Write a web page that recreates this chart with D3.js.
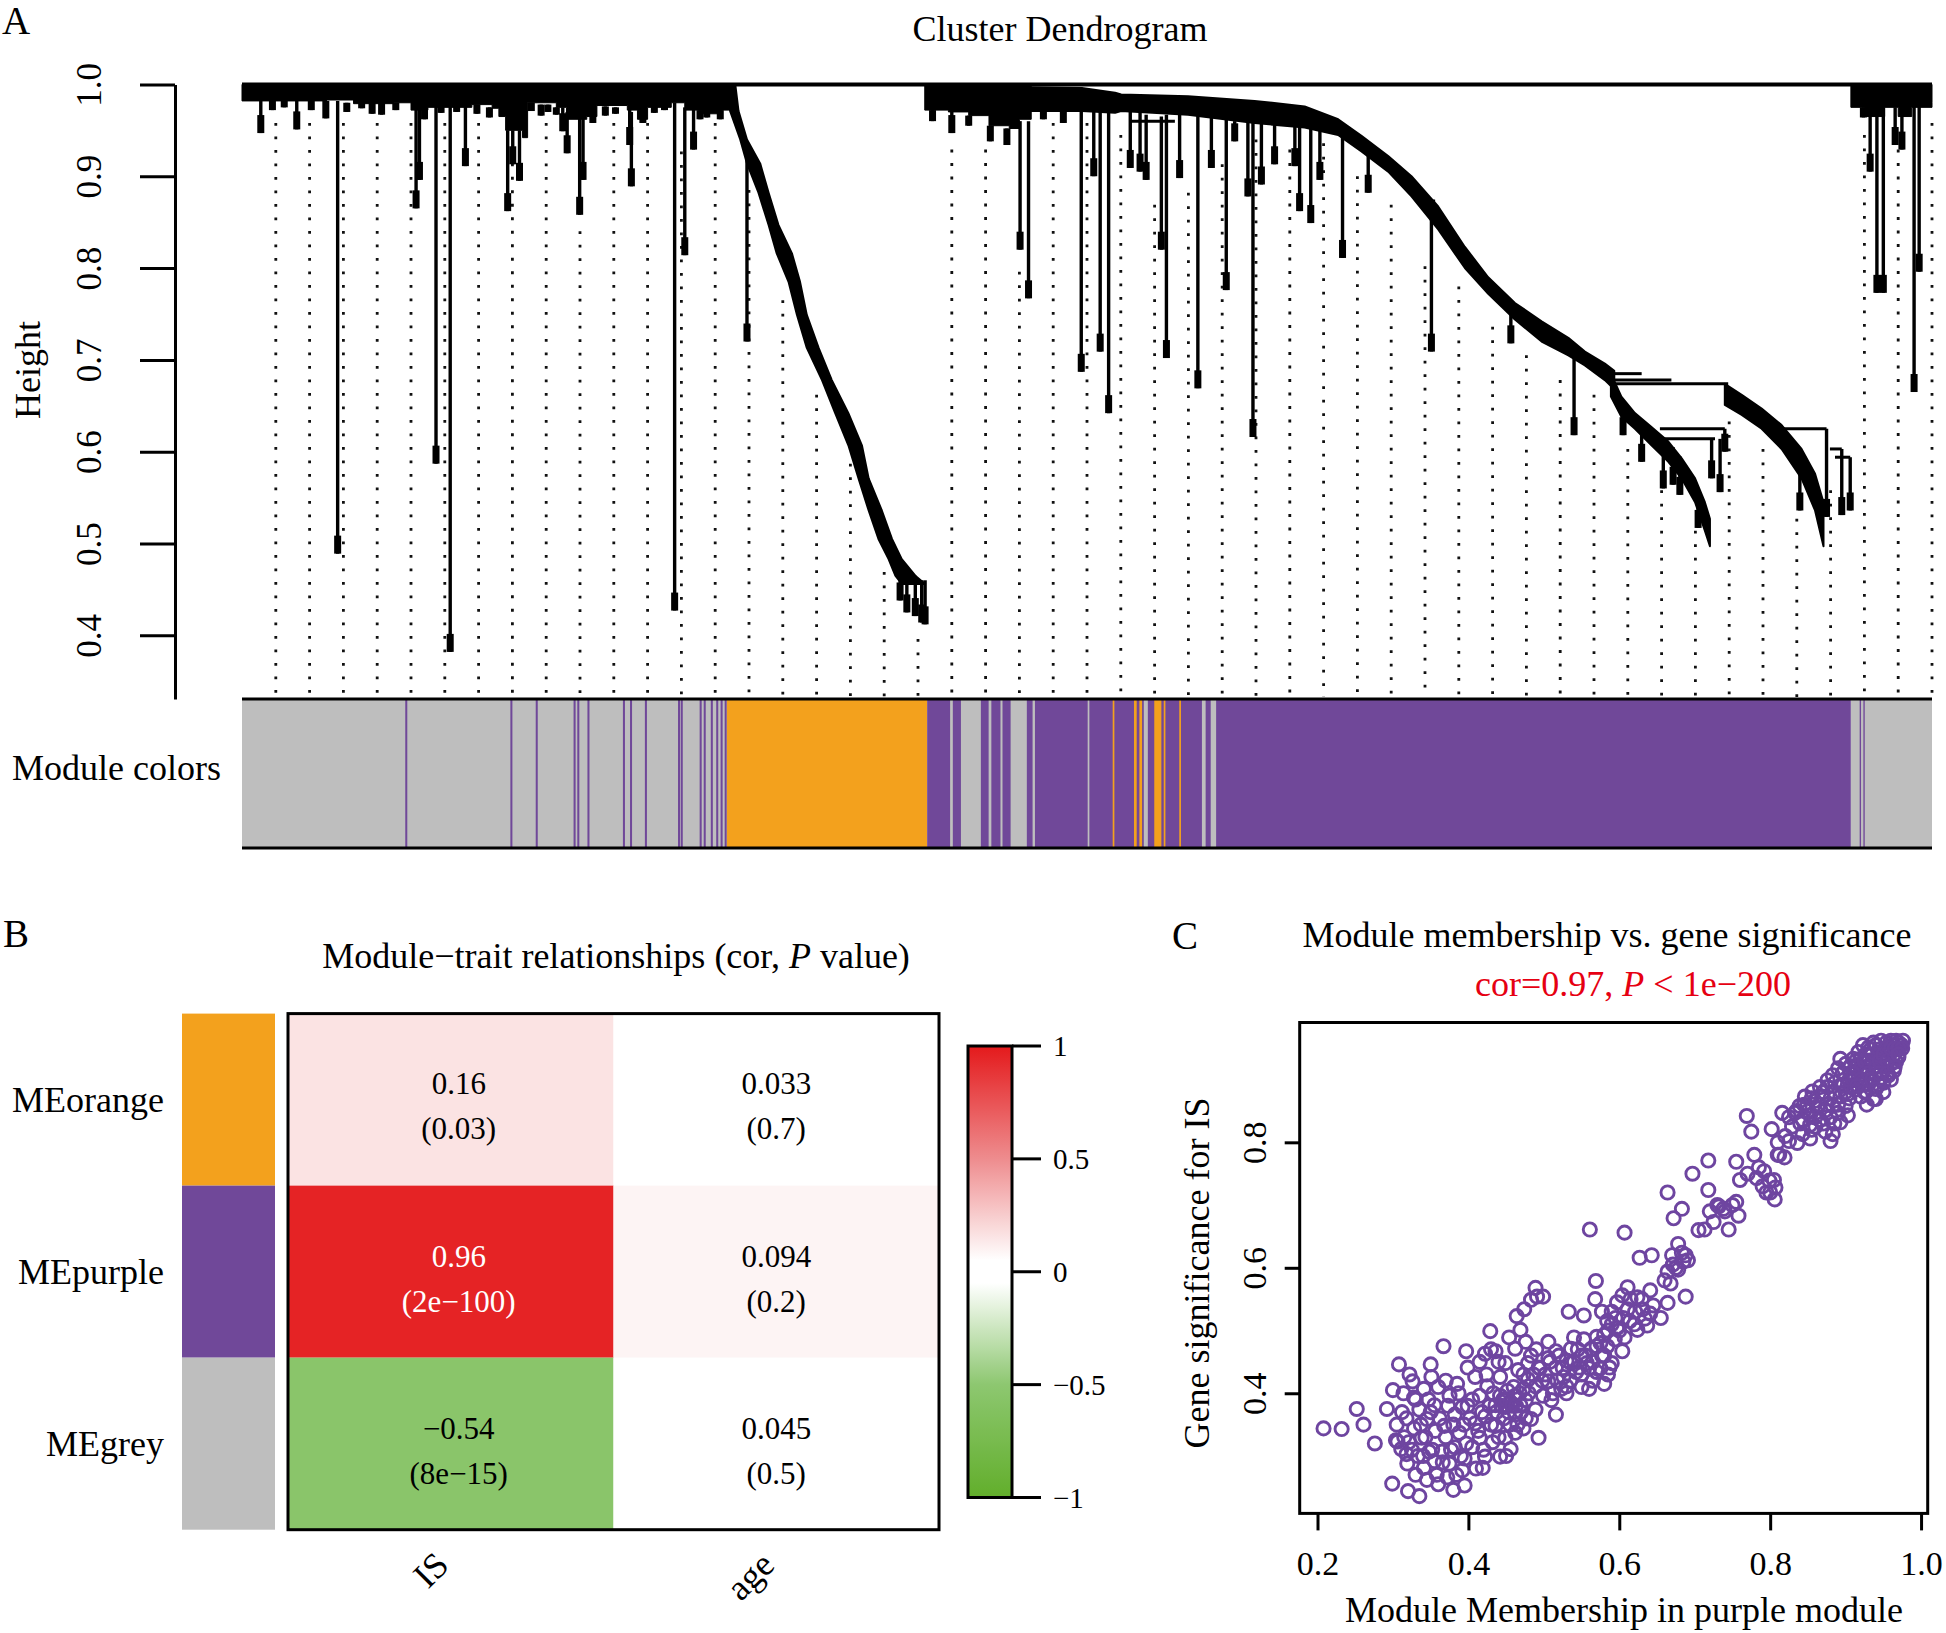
<!DOCTYPE html>
<html>
<head>
<meta charset="utf-8">
<script src="https://cdn.jsdelivr.net/npm/d3@7/dist/d3.min.js"></script>
<style>
html,body{margin:0;padding:0;background:#fff;}
svg{display:block;}
</style>
</head>
<body>
<svg id="fig" width="1946" height="1633" xmlns="http://www.w3.org/2000/svg"></svg>
<script>
// ================= DATA =================
// ---- Panel A: dendrogram (x = leaf position in guide units 0..50, y = height) ----
const heightTicks = [0.4, 0.5, 0.6, 0.7, 0.8, 0.9, 1.0];
const heightTickLabels = ["0.4", "0.5", "0.6", "0.7", "0.8", "0.9", "1.0"];

// height at which each of the 50 dotted guide lines starts (guide k at position k)
const guideTop = [0.958,0.958,0.958,0.958,0.958,0.958,0.958,0.914,0.958,0.840,
  0.958,0.958,0.927,0.958,0.885,0.765,0.662,0.587,0.469,0.396,
  0.929,0.929,0.796,0.958,0.958,0.945,0.869,0.882,0.913,0.940,
  0.929,0.936,0.900,0.869,0.802,0.780,0.736,0.705,0.678,0.662,
  0.603,0.558,0.514,0.633,0.603,0.527,0.558,0.945,0.929,0.958];

// dense merge blocks hanging from the root: [position, lower height]
const topBandLeft = [[0,0.982],[2.5,0.983],[3.3,0.979],[4.5,0.980],[5.0,0.972],[5.5,0.975],[6.8,0.978],
  [7.4,0.974],[7.6,0.965],[7.8,0.950],[8.3,0.942],[8.45,0.980],[9.3,0.975],[9.6,0.962],[10.2,0.965],
  [10.5,0.977],[11.4,0.972],[11.7,0.962],[12.0,0.975],[12.7,0.980],[13.1,0.972],[13.6,0.968],[14.2,0.972],[14.55,0.985]];
const topBandMid = [[20.2,0.972],[20.9,0.970],[21.5,0.966],[22.1,0.955],[22.7,0.952],[23.0,0.962],[23.35,0.970]];
const topBandRight = [[47.6,0.975],[48.0,0.965],[48.6,0.975],[49.0,0.965],[49.4,0.975],[50.0,0.980]];

// sloping clusters: [position, upper height, lower height]
const bandMain = [[23.3,0.997,0.971],[24.85,0.996,0.971],[25.83,0.991,0.969],[26.01,0.989,0.971],
  [27.99,0.987,0.967],[29.96,0.982,0.958],[31.44,0.976,0.953],[32.43,0.962,0.945],[33.12,0.944,0.927],
  [33.91,0.922,0.905],[34.6,0.900,0.878],[35.39,0.867,0.842],[36.18,0.823,0.800],[36.87,0.790,0.772],
  [37.66,0.762,0.744],[38.45,0.742,0.720],[39.24,0.724,0.705],[39.73,0.709,0.694],[40.32,0.696,0.678],[40.6,0.688,0.668]];
const bandSubLeft = [[40.5,0.685,0.660],[40.81,0.660,0.638],[41.21,0.642,0.625],[41.7,0.627,0.607],
  [42.2,0.611,0.589],[42.59,0.593,0.571],[42.99,0.571,0.545],[43.28,0.545,0.514],[43.43,0.527,0.497]];
const bandSubRight = [[43.87,0.674,0.651],[44.37,0.662,0.640],[44.96,0.647,0.625],[45.55,0.629,0.603],
  [46.14,0.603,0.571],[46.54,0.576,0.536],[46.79,0.545,0.497]];
// steep orange cluster: [height, left position, right position]
const bandOrange = [[0.998,14.39,14.60],[0.971,14.44,14.69],[0.940,14.74,14.94],[0.914,14.94,15.33],
  [0.882,15.28,15.58],[0.847,15.58,15.87],[0.816,15.82,16.27],[0.785,16.17,16.51],[0.749,16.42,16.71],
  [0.713,16.71,17.06],[0.678,17.16,17.45],[0.642,17.55,17.94],[0.607,17.94,18.34],[0.571,18.24,18.54],
  [0.536,18.54,18.93],[0.505,18.83,19.23],[0.483,19.13,19.52],[0.465,19.33,19.92],[0.456,19.52,20.21]];

// horizontal merge segments: [from, to, height]
const mergeBars = [[40.52,41.41,0.685],[40.52,42.29,0.678],[40.52,43.97,0.674],[41.95,43.87,0.625],
  [42.05,43.58,0.614],[45.26,46.88,0.625],[46.98,47.33,0.603],[47.13,47.58,0.594],[35.0,35.3,0.873],[26.3,27.6,0.960]];

// hanging branches: [position, top height, bottom height]
const drops = [
  [0.556,0.982,0.947],[0.9,0.982,0.972],[1.25,0.982,0.975],[1.62,0.982,0.951],[2.05,0.982,0.972],
  [2.48,0.982,0.963],[2.83,0.982,0.489],[3.1,0.980,0.970],[3.54,0.980,0.974],[3.85,0.980,0.968],
  [4.13,0.980,0.967],[4.55,0.980,0.972],[5.15,0.975,0.865],[5.25,0.975,0.896],[5.40,0.975,0.962],
  [5.74,0.978,0.587],[5.89,0.978,0.969],[6.16,0.978,0.382],[6.35,0.978,0.970],[6.61,0.978,0.911],
  [6.95,0.978,0.968],[7.32,0.975,0.964],[7.86,0.950,0.862],[8.01,0.950,0.913],[8.21,0.950,0.895],
  [8.56,0.980,0.971],[8.85,0.978,0.966],[9.05,0.978,0.970],[9.30,0.975,0.967],[9.49,0.975,0.949],
  [9.62,0.970,0.925],[9.99,0.970,0.858],[10.09,0.970,0.896],[10.38,0.975,0.958],[10.75,0.976,0.966],
  [11.05,0.975,0.968],[11.47,0.975,0.934],[11.52,0.970,0.889],[11.86,0.975,0.958],[12.2,0.978,0.969],
  [12.5,0.978,0.972],[12.80,0.980,0.427],[13.10,0.975,0.814],[13.36,0.975,0.929],[13.55,0.972,0.962],
  [13.75,0.975,0.964],[14.15,0.972,0.962],
  [14.94,0.930,0.720],[19.47,0.480,0.438],[19.67,0.470,0.425],[19.92,0.465,0.421],[20.11,0.460,0.414],[20.21,0.460,0.412],
  [20.43,0.972,0.960],[21.0,0.970,0.947],[21.5,0.966,0.955],[22.14,0.955,0.938],[22.63,0.952,0.934],[23.02,0.960,0.820],
  [23.27,0.960,0.767],[23.71,0.970,0.962],[24.3,0.970,0.958],[24.83,0.971,0.687],[25.2,0.970,0.900],[25.39,0.970,0.709],
  [25.64,0.970,0.642],[26.28,0.970,0.909],[26.57,0.970,0.905],[26.75,0.967,0.896],[27.2,0.965,0.820],
  [27.35,0.967,0.702],[27.74,0.967,0.898],[28.28,0.967,0.669],[28.68,0.965,0.909],[29.12,0.962,0.776],
  [29.37,0.960,0.938],[29.76,0.960,0.878],[29.91,0.960,0.616],[30.16,0.960,0.891],[30.55,0.958,0.913],
  [31.15,0.955,0.911],[31.29,0.955,0.862],[31.62,0.953,0.849],[31.89,0.952,0.896],[32.56,0.945,0.811],
  [33.32,0.925,0.882],[35.19,0.873,0.709],[37.54,0.755,0.718],[39.41,0.710,0.618],
  [40.86,0.655,0.618],[41.41,0.635,0.589],[42.05,0.614,0.560],[42.34,0.605,0.564],[42.54,0.595,0.553],
  [43.08,0.560,0.517],[43.48,0.614,0.571],[43.73,0.614,0.556],[43.87,0.625,0.600],[46.09,0.590,0.536],
  [46.88,0.625,0.529],[47.33,0.603,0.531],[47.58,0.594,0.536],
  [47.97,0.975,0.964],[48.17,0.975,0.905],[48.37,0.975,0.773],[48.56,0.975,0.773],[48.91,0.975,0.934],
  [49.11,0.975,0.929],[49.47,0.978,0.665],[49.62,0.978,0.796]];

// module colour strip under the tree: [from, to, module]
const moduleRuns = [[0,14.34,"grey"],[14.34,20.27,"orange"],[20.27,47.6,"purple"],[47.6,50,"grey"],
  [4.83,4.89,"purple"],[7.94,8.0,"purple"],[8.69,8.75,"purple"],[9.81,9.87,"purple"],[9.92,9.98,"purple"],
  [10.22,10.28,"purple"],[11.27,11.33,"purple"],[11.48,11.54,"purple"],[11.92,11.98,"purple"],
  [12.9,12.96,"purple"],[12.98,13.04,"purple"],[13.54,13.6,"purple"],[13.66,13.72,"purple"],
  [13.87,13.93,"purple"],[14.03,14.09,"purple"],[14.16,14.22,"purple"],[14.28,14.34,"purple"],
  [20.95,21.03,"grey"],[21.27,21.86,"grey"],[22.09,22.17,"grey"],[22.44,22.5,"grey"],[22.74,23.22,"grey"],
  [23.39,23.46,"grey"],[25.02,25.07,"grey"],[26.68,26.8,"grey"],[28.4,28.51,"grey"],[28.66,28.82,"grey"],
  [25.76,25.81,"orange"],[26.39,26.47,"orange"],[26.55,26.63,"orange"],[26.99,27.2,"orange"],
  [27.27,27.32,"orange"],[27.73,27.78,"orange"],
  [47.86,47.9,"purple"],[47.97,48.01,"purple"]];

// ---- Panel B: module-trait relationships ----
const modules = ["MEorange", "MEpurple", "MEgrey"];
const moduleNames = ["orange", "purple", "grey"];
const traits = ["IS", "age"];
const corValues = [[0.16, 0.033], [0.96, 0.094], [-0.54, 0.045]];
const corLabels = [["0.16", "0.033"], ["0.96", "0.094"], ["\u22120.54", "0.045"]];
const pLabels = [["(0.03)", "(0.7)"], ["(2e\u2212100)", "(0.2)"], ["(8e\u221215)", "(0.5)"]];
const legendTicks = [1, 0.5, 0, -0.5, -1];
const legendTickLabels = ["1", "0.5", "0", "\u22120.5", "\u22121"];

// ---- Panel C: module membership vs gene significance ----
const mmTicks = [0.2, 0.4, 0.6, 0.8, 1.0];
const mmTickLabels = ["0.2", "0.4", "0.6", "0.8", "1.0"];
const gsTicks = [0.4, 0.6, 0.8];
const gsTickLabels = ["0.4", "0.6", "0.8"];
const mmGs = [
[0.208,0.344],[0.232,0.343],[0.252,0.375],[0.261,0.350],[0.276,0.320],[0.292,0.375],[0.299,0.256],[0.300,0.405],
[0.308,0.446],[0.306,0.323],[0.320,0.244],[0.335,0.236],[0.319,0.288],[0.322,0.430],[0.314,0.400],[0.326,0.419],
[0.304,0.325],[0.311,0.311],[0.318,0.303],[0.328,0.393],[0.335,0.374],[0.341,0.407],[0.351,0.426],[0.350,0.446],
[0.367,0.475],[0.355,0.381],[0.345,0.359],[0.328,0.344],[0.321,0.322],[0.338,0.329],[0.348,0.307],[0.341,0.281],
[0.345,0.262],[0.360,0.255],[0.380,0.246],[0.372,0.266],[0.355,0.292],[0.365,0.307],[0.375,0.288],[0.382,0.314],
[0.388,0.337],[0.368,0.348],[0.382,0.366],[0.392,0.378],[0.375,0.396],[0.385,0.415],[0.399,0.441],[0.397,0.467],
[0.409,0.426],[0.392,0.277],[0.395,0.296],[0.405,0.314],[0.415,0.329],[0.409,0.352],[0.395,0.253],[0.419,0.281],
[0.422,0.299],[0.432,0.322],[0.422,0.363],[0.436,0.381],[0.415,0.396],[0.425,0.411],[0.442,0.426],[0.429,0.499],
[0.436,0.467],[0.449,0.448],[0.422,0.463],[0.442,0.396],[0.449,0.378],[0.436,0.348],[0.449,0.329],[0.442,0.299],
[0.456,0.311],[0.462,0.337],[0.462,0.366],[0.452,0.404],[0.456,0.385],[0.446,0.390],[0.462,0.396],[0.469,0.381],
[0.476,0.389],[0.473,0.407],[0.466,0.437],[0.479,0.422],[0.454,0.489],[0.462,0.471],[0.476,0.482],[0.469,0.501],
[0.474,0.534],[0.464,0.523],[0.483,0.549],[0.489,0.568],[0.499,0.554],[0.491,0.554],[0.479,0.448],[0.489,0.411],
[0.493,0.441],[0.483,0.359],[0.473,0.344],[0.493,0.329],[0.489,0.374],[0.499,0.396],[0.506,0.419],[0.510,0.389],
[0.516,0.366],[0.506,0.456],[0.506,0.482],[0.516,0.441],[0.523,0.407],[0.530,0.411],[0.526,0.426],[0.530,0.452],
[0.516,0.467],[0.536,0.448],[0.543,0.434],[0.533,0.530],[0.540,0.489],[0.536,0.471],[0.550,0.460],[0.547,0.441],
[0.557,0.448],[0.553,0.524],[0.553,0.486],[0.563,0.471],[0.560,0.407],[0.570,0.434],[0.577,0.460],[0.570,0.475],
[0.561,0.661],[0.569,0.579],[0.568,0.550],[0.577,0.530],[0.584,0.515],[0.580,0.493],[0.584,0.475],[0.590,0.448],
[0.580,0.415],[0.587,0.441],[0.594,0.486],[0.597,0.504],[0.590,0.530],[0.597,0.545],[0.604,0.556],[0.607,0.656],
[0.611,0.569],[0.611,0.534],[0.607,0.489],[0.604,0.467],[0.614,0.515],[0.621,0.530],[0.627,0.616],[0.643,0.620],
[0.624,0.553],[0.631,0.534],[0.634,0.519],[0.641,0.527],[0.637,0.508],[0.624,0.501],[0.641,0.564],[0.664,0.544],
[0.668,0.575],[0.664,0.594],[0.671,0.605],[0.678,0.597],[0.683,0.624],[0.688,0.620],[0.688,0.554],[0.664,0.720],
[0.672,0.679],[0.683,0.694],[0.678,0.638],[0.691,0.612],[0.697,0.750],[0.718,0.771],[0.713,0.661],[0.718,0.724],
[0.725,0.673],[0.732,0.698],[0.738,0.694],[0.745,0.661],[0.755,0.705],[0.758,0.683],[0.755,0.769],[0.769,0.842],
[0.775,0.817],[0.779,0.780],[0.782,0.743],[0.792,0.754],[0.799,0.739],[0.806,0.709],[0.807,0.728],[0.802,0.821],
[0.812,0.780],[0.819,0.776],[0.825,0.802],[0.829,0.825],[0.833,0.847],[0.816,0.847],[0.843,0.813],[0.853,0.806],
[0.860,0.825],[0.866,0.836],[0.873,0.851],[0.880,0.840],[0.853,0.843],[0.839,0.858],[0.846,0.873],[0.859,0.866],
[0.869,0.873],[0.876,0.888],[0.886,0.895],[0.893,0.873],[0.900,0.858],[0.906,0.888],[0.883,0.858],[0.890,0.847],
[0.893,0.832],[0.903,0.843],[0.873,0.817],[0.883,0.813],[0.853,0.828],[0.843,0.836],[0.836,0.799],[0.880,0.802],
[0.896,0.910],[0.906,0.910],[0.913,0.921],[0.920,0.933],[0.927,0.940],[0.933,0.948],[0.940,0.955],[0.947,0.962],
[0.954,0.959],[0.960,0.962],[0.967,0.962],[0.974,0.955],[0.917,0.903],[0.923,0.892],[0.920,0.873],[0.927,0.881],
[0.937,0.869],[0.927,0.914],[0.933,0.925],[0.940,0.933],[0.947,0.936],[0.954,0.940],[0.960,0.944],[0.967,0.948],
[0.970,0.936],[0.933,0.903],[0.940,0.907],[0.947,0.914],[0.954,0.921],[0.960,0.925],[0.967,0.929],[0.944,0.892],
[0.950,0.895],[0.957,0.907],[0.964,0.914],[0.920,0.918],[0.910,0.899],[0.913,0.884],[0.903,0.877],[0.897,0.892],
[0.890,0.918],[0.883,0.907],[0.876,0.899],[0.866,0.888],[0.856,0.881],[0.849,0.858],[0.863,0.855],[0.940,0.921],
[0.950,0.929],[0.957,0.948],[0.964,0.955],[0.970,0.959],[0.976,0.962],[0.930,0.929],[0.937,0.918],[0.913,0.929],
[0.906,0.921],[0.923,0.955],[0.930,0.951],[0.937,0.959],[0.944,0.948],[0.917,0.944],[0.910,0.933],[0.900,0.925],
[0.893,0.933],[0.940,0.869],[0.920,0.895],[0.930,0.892],[0.957,0.933],[0.947,0.903],[0.964,0.940],[0.954,0.951],
[0.305,0.350],[0.312,0.370],[0.318,0.360],[0.325,0.310],[0.330,0.270],[0.333,0.300],[0.337,0.350],[0.343,0.330],
[0.347,0.390],[0.352,0.310],[0.356,0.340],[0.358,0.270],[0.362,0.360],[0.366,0.290],[0.370,0.330],[0.373,0.380],
[0.377,0.310],[0.380,0.350],[0.384,0.270],[0.387,0.400],[0.390,0.300],[0.394,0.350],[0.397,0.320],[0.399,0.380],
[0.360,0.410],[0.370,0.420],[0.350,0.370],[0.330,0.390],[0.315,0.330],[0.340,0.300],
[0.402,0.360],[0.405,0.390],[0.410,0.280],[0.413,0.340],[0.418,0.370],[0.420,0.310],[0.424,0.430],[0.428,0.380],
[0.430,0.350],[0.433,0.400],[0.437,0.370],[0.440,0.330],[0.444,0.380],[0.447,0.360],[0.450,0.390],[0.453,0.370],
[0.455,0.350],[0.458,0.380],[0.460,0.410],[0.463,0.380],[0.465,0.350],[0.468,0.400],[0.470,0.370],[0.473,0.430],
[0.476,0.360],[0.480,0.400],[0.483,0.460],[0.486,0.430],[0.490,0.470],[0.495,0.440],[0.498,0.420],[0.440,0.450],
[0.430,0.470],[0.415,0.450],[0.450,0.300],
[0.502,0.430],[0.508,0.450],[0.512,0.400],[0.518,0.420],[0.520,0.460],[0.525,0.440],[0.530,0.400],[0.535,0.420],
[0.540,0.450],[0.545,0.470],[0.550,0.430],[0.555,0.460],[0.560,0.440],[0.565,0.450],[0.570,0.490],[0.575,0.480],
[0.580,0.460],[0.585,0.500],[0.590,0.510],[0.595,0.520],[0.600,0.500],[0.575,0.440],[0.565,0.420],[0.550,0.410],
[0.585,0.430],
[0.605,0.520],[0.615,0.550],[0.620,0.510],[0.630,0.550],[0.645,0.540],[0.655,0.520],[0.660,0.580],[0.675,0.600],
[0.685,0.610],[0.670,0.620],
[0.705,0.660],[0.720,0.690],[0.730,0.700],[0.740,0.690],[0.750,0.700],[0.760,0.740],[0.770,0.750],[0.785,0.760],
[0.790,0.730],[0.795,0.720],[0.800,0.720],[0.805,0.740],
[0.810,0.800],[0.820,0.810],[0.825,0.840],[0.835,0.850],[0.840,0.830],[0.845,0.860],[0.850,0.850],[0.855,0.870],
[0.860,0.840],[0.865,0.860],[0.870,0.880],[0.875,0.860],[0.880,0.870],[0.885,0.880],[0.890,0.860],[0.895,0.890],
[0.900,0.880],[0.885,0.830],[0.870,0.830],[0.855,0.820],[0.810,0.780],
[0.905,0.900],[0.910,0.910],[0.915,0.920],[0.920,0.900],[0.925,0.930],[0.930,0.910],[0.935,0.940],[0.940,0.920],
[0.945,0.930],[0.950,0.940],[0.955,0.930],[0.960,0.950],[0.965,0.950],[0.970,0.950],[0.975,0.950],[0.935,0.900],
[0.945,0.910],[0.955,0.910],[0.965,0.920],[0.925,0.880],[0.915,0.890],[0.905,0.870],[0.950,0.880],[0.960,0.900],
[0.970,0.940],[0.940,0.885],[0.928,0.860]];

// ================= DRAWING =================
const FONT = "'Liberation Serif','Times New Roman',Times,serif";
const moduleColor = {grey: "#BEBEBE", orange: "#F3A11D", purple: "#704899"};
const svg = d3.select("#fig");
svg.append("rect").attr("width", 1946).attr("height", 1633).attr("fill", "#fff");

function label(g, x, y, s, size, opts = {}) {
  const t = g.append("text").attr("x", x).attr("y", y)
    .attr("font-family", FONT).attr("font-size", size)
    .attr("text-anchor", opts.anchor || "middle")
    .attr("fill", opts.fill || "#000");
  if (opts.dy) t.attr("dy", opts.dy);
  if (opts.transform) t.attr("transform", opts.transform);
  t.text(s);
  return t;
}

// ---------- Panel A ----------
const xA = d3.scaleLinear().domain([0, 50]).range([242, 1932]);
const yA = d3.scaleLinear().domain([0.3307, 1.0]).range([699, 84.4]);
const barTop = 699, barBot = 848;
const A = svg.append("g");

label(A, 2, 34, "A", 39, {anchor: "start"});
label(A, 1060, 41, "Cluster Dendrogram", 36);

// dotted guide lines
A.append("g").selectAll("line").data(guideTop).join("line")
  .attr("x1", (d, i) => xA(i + 1)).attr("x2", (d, i) => xA(i + 1))
  .attr("y1", d => yA(d)).attr("y2", barTop - 2)
  .attr("stroke", "#111").attr("stroke-width", 2.8)
  .attr("stroke-dasharray", "2.8 10.7");

const dendro = A.append("g").attr("fill", "#000").attr("stroke", "#000");
const topArea = d3.area().x(d => xA(d[0])).y0(yA(1.0)).y1(d => yA(d[1])).curve(d3.curveStepAfter);
[topBandLeft, topBandMid, topBandRight].forEach(b =>
  dendro.append("path").attr("d", topArea(b)).attr("stroke-width", 1));
const bandArea = d3.area().x(d => xA(d[0])).y0(d => yA(d[1])).y1(d => yA(d[2]));
[bandMain, bandSubLeft, bandSubRight].forEach(b =>
  dendro.append("path").attr("d", bandArea(b)).attr("stroke-width", 2).attr("stroke-linejoin", "round"));
const orangeArea = d3.area().y(d => yA(d[0])).x0(d => xA(d[1])).x1(d => xA(d[2]));
dendro.append("path").attr("d", orangeArea(bandOrange)).attr("stroke-width", 2).attr("stroke-linejoin", "round");

dendro.selectAll("line.mb").data(mergeBars).join("line").attr("class", "mb")
  .attr("x1", d => xA(d[0])).attr("x2", d => xA(d[1]))
  .attr("y1", d => yA(d[2])).attr("y2", d => yA(d[2])).attr("stroke-width", 3);
dendro.selectAll("line.dr").data(drops).join("line").attr("class", "dr")
  .attr("x1", d => xA(d[0])).attr("x2", d => xA(d[0]))
  .attr("y1", d => yA(d[1])).attr("y2", d => yA(d[2])).attr("stroke-width", 3.4);
dendro.selectAll("rect.tail").data(drops).join("rect").attr("class", "tail")
  .attr("x", d => xA(d[0]) - 3.5).attr("width", 7)
  .attr("y", d => Math.max(yA(d[1]), yA(d[2]) - 18))
  .attr("height", d => Math.min(18, yA(d[2]) - yA(d[1])))
  .attr("stroke", "none");
// root merge line
dendro.append("line").attr("x1", xA(0)).attr("x2", xA(50))
  .attr("y1", yA(1.0)).attr("y2", yA(1.0)).attr("stroke-width", 4);

// y axis
const axA = d3.axisLeft(yA).tickValues(heightTicks).tickSize(35).tickSizeOuter(0)
  .tickFormat((d, i) => heightTickLabels[i]);
const gAx = A.append("g").attr("transform", "translate(175,0)").call(axA);
gAx.select(".domain").attr("stroke-width", 3);
gAx.selectAll(".tick line").attr("stroke-width", 3);
gAx.selectAll(".tick text").attr("x", 0).attr("dy", "0.35em")
  .attr("transform", "translate(-86,0) rotate(-90)").attr("text-anchor", "middle")
  .attr("font-family", FONT).attr("font-size", 35).attr("fill", "#000");
label(A, 0, 0, "Height", 36, {dy: "0.35em", transform: "translate(27,370) rotate(-90)"});

// module colours strip
A.append("g").selectAll("rect").data(moduleRuns).join("rect")
  .attr("x", d => xA(d[0])).attr("width", d => xA(d[1]) - xA(d[0]))
  .attr("y", barTop).attr("height", barBot - barTop)
  .attr("fill", d => moduleColor[d[2]]);
[barTop, barBot].forEach(y => A.append("line").attr("x1", xA(0)).attr("x2", xA(50))
  .attr("y1", y).attr("y2", y).attr("stroke", "#000").attr("stroke-width", 3));
label(A, 221, 767, "Module colors", 36, {anchor: "end", dy: "0.35em"});

// ---------- Panel B ----------
const B = svg.append("g");
const xB = d3.scaleBand().domain(traits).range([288, 939]);
const yB = d3.scaleBand().domain(modules).range([1013.6, 1529.7]);
const corColor = d3.scaleLinear().domain([-1, -0.5, -0.05, 0.05, 0.5, 1])
  .range(["#62AE2B", "#8DC770", "#FFFFFF", "#FFFFFF", "#EE8C8E", "#E41A1C"]);

label(B, 3, 947, "B", 39, {anchor: "start"});
const tB = label(B, 616, 968, "", 36);
tB.append("tspan").text("Module\u2212trait relationships (cor, ");
tB.append("tspan").attr("font-style", "italic").text("P");
tB.append("tspan").text(" value)");

// module swatches
B.selectAll("rect.sw").data(modules).join("rect").attr("class", "sw")
  .attr("x", 182).attr("width", 93)
  .attr("y", d => yB(d)).attr("height", yB.bandwidth())
  .attr("fill", (d, i) => moduleColor[moduleNames[i]]);
modules.forEach(m => label(B, 164, yB(m) + yB.bandwidth() / 2, m, 36, {anchor: "end", dy: "0.35em"}));

// cells
modules.forEach((m, i) => traits.forEach((t, j) => {
  const cx = xB(t) + xB.bandwidth() / 2 + (j === 0 ? 8 : 0), cy = yB(m) + yB.bandwidth() / 2;
  B.append("rect").attr("x", xB(t)).attr("y", yB(m))
    .attr("width", xB.bandwidth()).attr("height", yB.bandwidth())
    .attr("fill", corColor(corValues[i][j]));
  const fc = Math.abs(corValues[i][j]) > 0.8 ? "#fff" : "#000";
  label(B, cx, cy - 16, corLabels[i][j], 31, {dy: "0.35em", fill: fc});
  label(B, cx, cy + 29, pLabels[i][j], 31, {dy: "0.35em", fill: fc});
}));
B.append("rect").attr("x", 288).attr("y", 1013.6).attr("width", 651).attr("height", 516.1)
  .attr("fill", "none").attr("stroke", "#000").attr("stroke-width", 3);
traits.forEach(t => label(B, 0, 0, t, 36, {anchor: "end",
  transform: `translate(${xB(t) + xB.bandwidth() / 2},1567) rotate(-45)`}));

// colour legend
const yL = d3.scaleLinear().domain([-1, 1]).range([1497.5, 1046]);
const grad = svg.append("defs").append("linearGradient").attr("id", "corGrad")
  .attr("x1", 0).attr("x2", 0).attr("y1", 1).attr("y2", 0);
d3.range(0, 41).forEach(k => {
  const v = -1 + k * 0.05;
  grad.append("stop").attr("offset", (k / 40)).attr("stop-color", corColor(v));
});
B.append("rect").attr("x", 968).attr("y", yL(1)).attr("width", 44).attr("height", yL(-1) - yL(1))
  .attr("fill", "url(#corGrad)").attr("stroke", "#000").attr("stroke-width", 3);
legendTicks.forEach((v, i) => {
  B.append("line").attr("x1", 1012).attr("x2", 1041).attr("y1", yL(v)).attr("y2", yL(v))
    .attr("stroke", "#000").attr("stroke-width", 3);
  label(B, 1053, yL(v), legendTickLabels[i], 29, {anchor: "start", dy: "0.35em"});
});

// ---------- Panel C ----------
const C = svg.append("g");
const xC = d3.scaleLinear().domain([0.1764, 1.0088]).range([1299.7, 1927.7]);
const yC = d3.scaleLinear().domain([0.2085, 0.991]).range([1513.4, 1022.5]);

label(C, 1172, 949, "C", 39, {anchor: "start"});
label(C, 1607, 947, "Module membership vs. gene significance", 36);
const tC = label(C, 1633, 996, "", 36, {fill: "#E60012"});
tC.append("tspan").text("cor=0.97, ");
tC.append("tspan").attr("font-style", "italic").text("P");
tC.append("tspan").text(" < 1e\u2212200");

C.append("g").selectAll("circle").data(mmGs).join("circle")
  .attr("cx", d => xC(d[0])).attr("cy", d => yC(d[1])).attr("r", 6.6)
  .attr("fill", "none").attr("stroke", "#6E45A0").attr("stroke-width", 2.9);

C.append("rect").attr("x", 1299.7).attr("y", 1022.5).attr("width", 628).attr("height", 490.9)
  .attr("fill", "none").attr("stroke", "#000").attr("stroke-width", 3);

const axCx = d3.axisBottom(xC).tickValues(mmTicks).tickSize(17).tickSizeOuter(0)
  .tickFormat((d, i) => mmTickLabels[i]);
const gCx = C.append("g").attr("transform", "translate(0,1513.4)").call(axCx);
gCx.select(".domain").remove();
gCx.selectAll(".tick line").attr("stroke-width", 3);
gCx.selectAll(".tick text").attr("y", 50).attr("dy", "0.35em")
  .attr("font-family", FONT).attr("font-size", 34).attr("fill", "#000");

const axCy = d3.axisLeft(yC).tickValues(gsTicks).tickSize(15).tickSizeOuter(0)
  .tickFormat((d, i) => gsTickLabels[i]);
const gCy = C.append("g").attr("transform", "translate(1299.7,0)").call(axCy);
gCy.select(".domain").remove();
gCy.selectAll(".tick line").attr("stroke-width", 3);
gCy.selectAll(".tick text").attr("x", 0).attr("dy", "0.35em")
  .attr("transform", "translate(-46,0) rotate(-90)").attr("text-anchor", "middle")
  .attr("font-family", FONT).attr("font-size", 34).attr("fill", "#000");

label(C, 1624, 1622, "Module Membership in purple module", 36);
label(C, 0, 0, "Gene significance for IS", 36, {dy: "0.35em", transform: "translate(1196,1273) rotate(-90)"});
</script>
</body>
</html>
